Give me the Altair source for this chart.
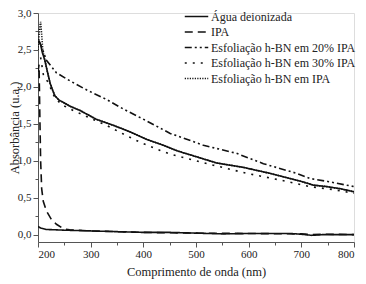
import altair as alt
import pandas as pd

series_names = [
    "Água deionizada",
    "IPA",
    "Esfoliação h-BN em 20% IPA",
    "Esfoliação h-BN em 30% IPA",
    "Esfoliação h-BN em IPA",
]

# upper solid curve
agua_nm = [200, 202, 205, 208, 213, 218, 223, 228, 232, 240, 248, 260, 280, 311, 343, 375, 406, 438, 466, 489, 539, 590, 640, 678, 700, 723, 748, 775, 800]
agua_v = [2.60, 2.62, 2.57, 2.47, 2.36, 2.20, 2.05, 1.95, 1.88, 1.82, 1.79, 1.74, 1.68, 1.56, 1.48, 1.39, 1.29, 1.21, 1.13, 1.08, 0.97, 0.91, 0.83, 0.76, 0.72, 0.67, 0.65, 0.62, 0.58]

# baseline solid curve
base_nm = [200, 205, 215, 250, 300, 350, 400, 450, 500, 550, 600, 650, 680, 700, 720, 740, 800]
base_v = [0.11, 0.09, 0.07, 0.06, 0.05, 0.04, 0.03, 0.03, 0.02, 0.01, 0.015, 0.015, 0.015, 0.005, -0.01, 0.0, 0.0]

ipa_nm = [200, 202, 203.5, 205, 207, 210, 216, 225, 235, 248, 260, 300, 400, 500, 600, 700, 720, 750, 800]
ipa_v = [2.20, 2.30, 1.60, 1.00, 0.62, 0.45, 0.32, 0.21, 0.14, 0.08, 0.065, 0.05, 0.03, 0.02, 0.015, 0.01, 0.0, 0.005, 0.0]

p20_nm = [202, 207, 216, 235, 261, 292, 330, 362, 406, 451, 463, 514, 577, 628, 691, 716, 750, 800]
p20_v = [2.62, 2.54, 2.36, 2.19, 2.08, 1.96, 1.83, 1.70, 1.54, 1.37, 1.34, 1.21, 1.10, 0.96, 0.83, 0.76, 0.72, 0.65]

p30_nm = [205, 210, 220, 232, 245, 261, 289, 330, 368, 394, 432, 451, 533, 596, 659, 716, 760, 800]
p30_v = [2.40, 2.17, 2.05, 1.85, 1.76, 1.70, 1.61, 1.48, 1.34, 1.25, 1.14, 1.09, 0.94, 0.83, 0.74, 0.65, 0.61, 0.56]

exf_nm = [200, 203, 205, 207, 209, 213, 218, 223, 228, 232, 240, 248, 260, 280, 311, 343, 375, 406, 438, 466, 489, 539, 590, 640, 678, 700, 723, 748, 775, 800]
exf_v = [2.50, 2.80, 2.88, 2.70, 2.50, 2.36, 2.20, 2.05, 1.95, 1.88, 1.82, 1.79, 1.74, 1.68, 1.56, 1.48, 1.39, 1.29, 1.21, 1.13, 1.08, 0.97, 0.91, 0.83, 0.76, 0.72, 0.67, 0.65, 0.62, 0.58]

x_major = [200, 300, 400, 500, 600, 700, 800]
x_minor = [250, 350, 450, 550, 650, 750]
y_major = [0.0, 0.5, 1.0, 1.5, 2.0, 2.5, 3.0]
y_minor = [0.25, 0.75, 1.25, 1.75, 2.25, 2.75]

rows = []
def add(name, curve, xs, ys):
    for i, (a, b) in enumerate(zip(xs, ys)):
        rows.append({"serie": name, "curva": curve, "nm": a, "abs": b, "ordem": i})

add(series_names[0], "a", agua_nm, agua_v)
add(series_names[0], "b", base_nm, base_v)
add(series_names[1], "c", ipa_nm, ipa_v)
add(series_names[2], "d", p20_nm, p20_v)
add(series_names[3], "e", p30_nm, p30_v)
add(series_names[4], "f", exf_nm, exf_v)
df = pd.DataFrame(rows)

dashes = [[1, 0], [8, 5], [7, 3, 2, 3, 2, 3], [2, 6], [1.2, 1.3]]
widths = [1.6, 1.6, 1.6, 2.0, 1.4]

FONT = "'Liberation Serif', 'Times New Roman', 'DejaVu Serif', serif"
xs = alt.Scale(domain=[200, 800], nice=False)
ys = alt.Scale(domain=[-0.1, 3.0], nice=False)

lines = alt.Chart(df).mark_line(color="#111", clip=True).encode(
    x=alt.X("nm:Q", scale=xs, axis=alt.Axis(
        values=x_major, title="Comprimento de onda (nm)", grid=False,
        tickSize=5, labelPadding=1, domainColor="#555", tickColor="#555",
        labelFont=FONT, labelFontSize=11, labelColor="#222",
        titleFont=FONT, titleFontSize=12.5, titleFontWeight="normal", titleColor="#222", titlePadding=6)),
    y=alt.Y("abs:Q", scale=ys, axis=alt.Axis(
        values=y_major, title="Absorbância (u.a.)", grid=False,
        labelExpr="replace(format(datum.value, '.1f'), '.', ',')",
        tickSize=5, labelPadding=2, domainColor="#555", tickColor="#555",
        labelFont=FONT, labelFontSize=11, labelColor="#222",
        titleFont=FONT, titleFontSize=12.5, titleFontWeight="normal", titleColor="#222",
        titleX=-23.5, titleBaseline="middle")),
    strokeDash=alt.StrokeDash("serie:N", scale=alt.Scale(domain=series_names, range=dashes),
        legend=alt.Legend(title=None, orient="none", legendX=151, legendY=-4,
                          symbolType="M-1.8,0H1.8", symbolSize=170, symbolStrokeColor="#111",
                          symbolStrokeWidth=1.6, labelFont=FONT, labelFontSize=12,
                          labelColor="#222", rowPadding=1.5, labelOffset=7, symbolOffset=0)),
    strokeWidth=alt.StrokeWidth("serie:N", scale=alt.Scale(domain=series_names, range=widths), legend=None),
    detail="curva:N",
    order="ordem:Q",
)

minor = alt.Chart(df).mark_point(opacity=0).encode(
    x=alt.X("nm:Q", scale=xs, axis=alt.Axis(values=x_minor, labels=False, title=None, grid=False,
                                              domain=False, tickSize=3, tickColor="#555", orient="bottom")),
    y=alt.Y("abs:Q", scale=ys, axis=alt.Axis(values=y_minor, labels=False, title=None, grid=False,
                                               domain=False, tickSize=3, tickColor="#555", orient="left")),
)

chart = alt.layer(lines, minor).resolve_axis(x="independent", y="independent").properties(
    width=316, height=229,
    padding={"left": 30, "top": 5, "right": 4, "bottom": 42},
    autosize=alt.AutoSizeParams(type="none"),
).configure_view(stroke="#777", strokeWidth=1.5).configure(background="white")

chart.save("out.html", embed_options={"renderer": "svg", "actions": False})
